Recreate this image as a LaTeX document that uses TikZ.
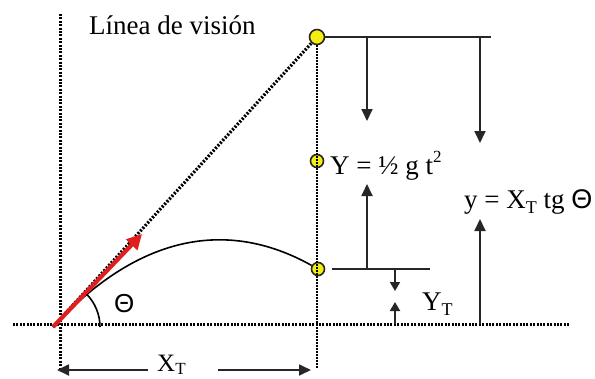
\documentclass[tikz,border=0pt]{standalone}
\usepackage{fontspec}
\setmainfont{Liberation Serif}
\newfontfamily\thetafont{Liberation Sans}
\usetikzlibrary{arrows.meta}
\definecolor{ball}{HTML}{F2EE10}
\definecolor{redarrow}{HTML}{E01E1E}
\tikzset{
  lbl/.style={inner sep=0pt, anchor=base west, font=\fontsize{27}{30}\selectfont},
  ballnode/.style={circle, draw=black!85, line width=1.6pt, fill=ball, inner sep=0pt, minimum size=13pt},
  thickdot/.style={line width=3pt, dash pattern=on 2pt off 1.4pt},
  thindot/.style={line width=1.4pt, dash pattern=on 1.4pt off 1.6pt},
  dimarrow/.style={line width=1.8pt, draw=black!85, -{Triangle[length=12pt,width=11pt]}},
  smallarrow/.style={line width=1.8pt, draw=black!85, -{Triangle[length=9pt,width=10pt]}},
  barline/.style={line width=2pt, draw=black!85},
}
\newcommand{\subT}{\raisebox{-0.22em}{\fontsize{18}{18}\selectfont T}}
\begin{document}
\begin{tikzpicture}[x=1pt,y=-1pt]
\useasboundingbox (0,0) rectangle (595,378);
% key points
\coordinate (O) at (53,327);
\coordinate (vtop) at (60,14);
\coordinate (vbot) at (60,368);
\coordinate (gl) at (13,324);
\coordinate (gr) at (570,324);
% guide lines
\draw[thickdot] (vtop) -- (vbot);
\draw[thickdot] (gl) -- (gr);
% balls
\node[ballnode, minimum size=15pt] (top) at (317,37) {};
\node[ballnode] (mid) at (317,161) {};
\node[ballnode] (bot) at (318,269) {};
\coordinate (xbot) at (317,368);
\draw[thindot] (top) -- (xbot);
% line of sight
\draw[line width=3.2pt, dash pattern=on 2pt off 1.6pt] (O) -- (top);
% trajectory
\draw[line width=1.6pt] (O) .. controls (136,237) and (225,217) .. (bot);
% red launch arrow
\coordinate (rtip) at (142,234);
\draw[redarrow, line width=4.2pt, -{Triangle[length=15pt,width=15pt]}] (O) -- (rtip);
% angle arc
\draw[line width=1.6pt] (100,327) arc[start angle=0, end angle=-44, radius=47];
\node[inner sep=0pt, anchor=base west, font=\fontsize{26}{30}\selectfont\thetafont] (theta) at (114,312) {Θ};
% top bar and down arrows
\coordinate (tbr) at (491,37);
\draw[barline] (top) -- (tbr);
\coordinate (a1s) at (367,37); \coordinate (a1e) at (367,121);
\coordinate (a2s) at (480,37); \coordinate (a2e) at (480,143);
\draw[dimarrow] (a1s) -- (a1e);
\draw[dimarrow] (a2s) -- (a2e);
% bottom bar
\coordinate (bbl) at (332,269); \coordinate (bbr) at (430,269);
\draw[barline] (bbl) -- (bbr);
\coordinate (a3s) at (367,269); \coordinate (a3e) at (367,184);
\draw[dimarrow] (a3s) -- (a3e);
\coordinate (a4s) at (395,269); \coordinate (a4e) at (395,291);
\draw[smallarrow] (a4s) -- (a4e);
\coordinate (a5s) at (395,324); \coordinate (a5e) at (395,302);
\draw[smallarrow] (a5s) -- (a5e);
\coordinate (a6s) at (480,324); \coordinate (a6e) at (480,219);
\draw[dimarrow] (a6s) -- (a6e);
% X_T arrows
\coordinate (xl1) at (148,370); \coordinate (xl2) at (57,370);
\coordinate (xr1) at (218,370); \coordinate (xr2) at (311,370);
\draw[dimarrow] (xl1) -- (xl2);
\draw[dimarrow] (xr1) -- (xr2);
% labels
\node[lbl] (los) at (89,34) {Línea de visión};
\node[lbl] (ylab) at (330,174) {Y = ½ g t\raisebox{0.42em}{\fontsize{17}{17}\selectfont 2}};
\node[lbl] (ybig) at (464,208) {y = X\subT\ tg {\thetafont Θ}};
\node[lbl] (yt) at (422,310) {Y\subT};
\node[lbl, font=\fontsize{25}{30}\selectfont] (xt) at (157,371) {X\raisebox{-0.15em}{\fontsize{17}{17}\selectfont T}};
\end{tikzpicture}
\end{document}
